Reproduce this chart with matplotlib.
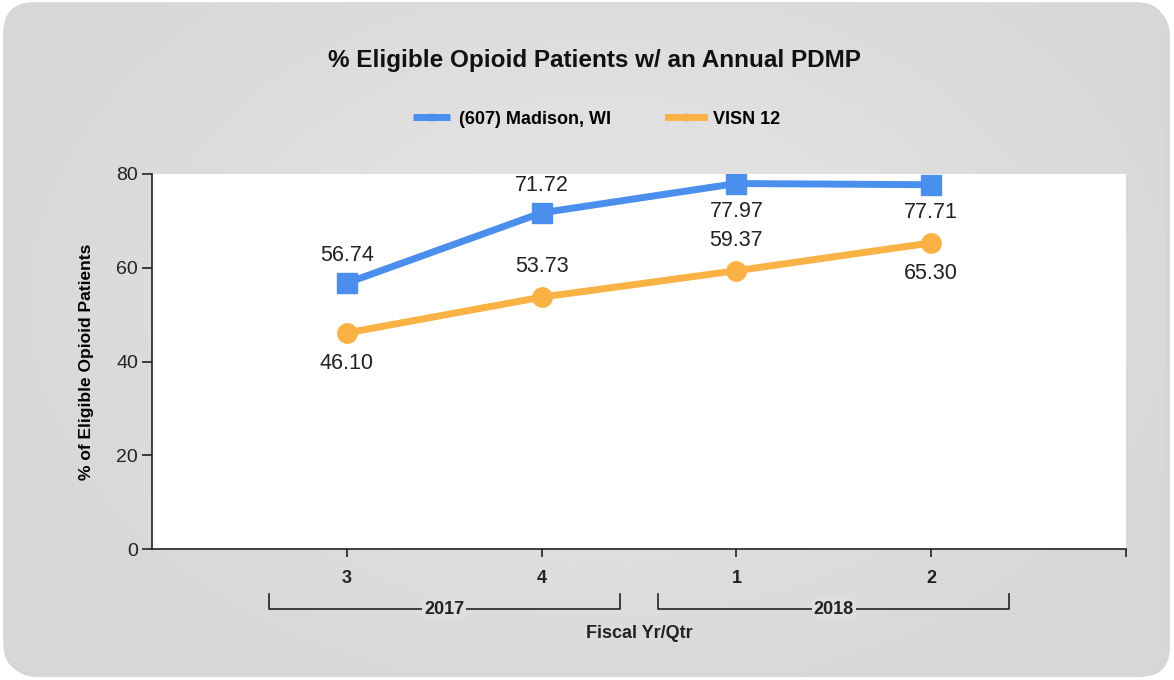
import numpy as np
import matplotlib.pyplot as plt
from matplotlib.patches import FancyBboxPatch

plt.rcParams['font.family'] = ['Liberation Sans', 'DejaVu Sans']

quarters = ['3', '4', '1', '2']
years = ['2017', '2018']
madison = [56.74, 71.72, 77.97, 77.71]
visn = [46.10, 53.73, 59.37, 65.30]
# label placement: +1 above the point, -1 below
madison_pos = [1, 1, -1, -1]
visn_pos = [-1, 1, 1, -1]

blue = '#4a8fee'
orange = '#fbb245'

fig = plt.figure(figsize=(11.74, 6.80), dpi=100)
fig.patch.set_facecolor('white')

# background panel with soft gradient
bg = fig.add_axes([0, 0, 1, 1])
bg.set_xlim(0, 1174)
bg.set_ylim(680, 0)
bg.axis('off')
shadow = FancyBboxPatch((8, 7), 1162, 670, boxstyle='round,pad=0,rounding_size=30',
                        fc='#bdbdbd', ec='none', alpha=0.6)
bg.add_patch(shadow)
panel = FancyBboxPatch((4, 3), 1162, 670, boxstyle='round,pad=0,rounding_size=30',
                       fc='#dcdcdc', ec='#d0d0d0', lw=1)
bg.add_patch(panel)
yy, xx = np.mgrid[0:680, 0:1174]
g = np.sqrt(((xx - 600) / 650.0) ** 2 + ((yy - 300) / 450.0) ** 2)
img = 0.905 - 0.065 * np.clip(g, 0, 1)
im = bg.imshow(img, cmap='gray', vmin=0, vmax=1, extent=(0, 1174, 680, 0), zorder=1)
im.set_clip_path(panel)

ax = fig.add_axes([152 / 1174, 1 - 549 / 680, (1126 - 152) / 1174, (549 - 174) / 680])
ax.set_facecolor('white')
x = np.arange(len(quarters))
ax.plot(x, madison, color=blue, lw=5, marker='s', ms=14, label='(607) Madison, WI',
        solid_capstyle='butt', zorder=3)
ax.plot(x, visn, color=orange, lw=5, marker='o', ms=14, label='VISN 12', zorder=3)

for xi, v, p in zip(x, madison, madison_pos):
    ax.annotate('%.2f' % v, (xi, v), xytext=(0, 20 * p), textcoords='offset points',
                ha='center', va='center', fontsize=15.5, color='#222222')
for xi, v, p in zip(x, visn, visn_pos):
    ax.annotate('%.2f' % v, (xi, v), xytext=(0, 22 * p), textcoords='offset points',
                ha='center', va='center', fontsize=15.5, color='#222222')

ax.set_xlim(-1, 4)
ax.set_ylim(0, 80)
ax.set_yticks([0, 20, 40, 60, 80])
ax.set_xticks(list(x) + [4])
ax.set_xticklabels(quarters + [''], fontweight='bold', fontsize=13)
ax.tick_params(axis='y', labelsize=14, length=7, width=1.2, colors='#222222', pad=3)
ax.tick_params(axis='x', length=6, width=1.2, colors='#222222', pad=9)
for s in ['top', 'right']:
    ax.spines[s].set_visible(False)
for s in ['left', 'bottom']:
    ax.spines[s].set_linewidth(1.2)
    ax.spines[s].set_color('#222222')
ax.set_ylabel('% of Eligible Opioid Patients', fontsize=12.5, fontweight='bold', labelpad=16)

# year group brackets below the quarter labels
tr = ax.get_xaxis_transform()
for i, yr in enumerate(years):
    a, b = 2 * i - 0.4, 2 * i + 1.4
    ax.plot([a, a, b, b], [-0.12, -0.16, -0.16, -0.12], color='#222222', lw=1.2,
            transform=tr, clip_on=False)
    ax.text(2 * i + 0.5, -0.16, yr, transform=tr, ha='center', va='center',
            fontsize=13, fontweight='bold', color='#222222',
            bbox=dict(fc='#dedede', ec='none', pad=1.5))
ax.text(1.5, -0.225, 'Fiscal Yr/Qtr', transform=tr, ha='center', va='center',
        fontsize=13, fontweight='bold', color='#222222')

fig.text(594 / 1174, 1 - 60 / 680, '% Eligible Opioid Patients w/ an Annual PDMP',
         ha='center', va='center', fontsize=17.5, fontweight='bold', color='#111111')
fig.legend(loc='center', bbox_to_anchor=(597 / 1174, 1 - 119 / 680), ncol=2,
           frameon=False, prop={'weight': 'bold', 'size': 13},
           handlelength=2.0, handletextpad=0.5, columnspacing=3.2, markerscale=0.35)

fig.savefig('out.png', dpi=100)
